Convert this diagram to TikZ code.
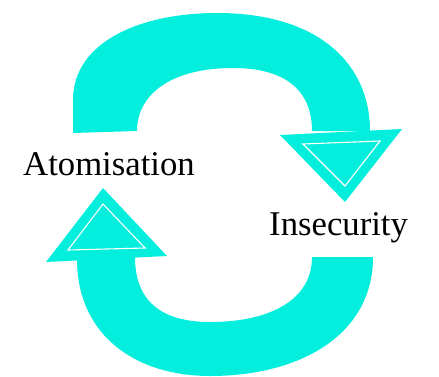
\documentclass[tikz,border=0pt]{standalone}
\usepackage{fontspec}
\setmainfont{Liberation Serif}
\definecolor{aqua}{RGB}{4,238,222}
\begin{document}
\begin{tikzpicture}[x=1pt,y=-1pt,
  band/.style={fill=aqua,draw=none},
  innertri/.style={draw=white,line width=1.1pt,line join=miter},
  label/.style={inner sep=0pt,anchor=base west,font=\fontsize{34.7}{38}\selectfont}]
\useasboundingbox (0,0) rectangle (439,376);
% top arc
\path[band] (73,133) -- (73,100) .. controls (73,42) and (140,13) .. (217,13)
  .. controls (320,13) and (370,65) .. (370,131) -- (312,131)
  .. controls (312,90) and (285,68) .. (233,68)
  .. controls (170,68) and (137,95) .. (137,131) -- cycle;
% top arrowhead
\path[band] (280,135) -- (402,129) -- (345,202) -- cycle;
\draw[innertri] (303,144) -- (380,141) -- (345,186) -- cycle;
% bottom arc
\path[band] (77,259) .. controls (77,335) and (135,376) .. (210,376)
  .. controls (300,376) and (373,335) .. (373,257) -- (312,257)
  .. controls (312,300) and (270,322) .. (210,322)
  .. controls (160,322) and (135,300) .. (135,257) -- cycle;
% bottom arrowhead
\path[band] (46,262) -- (167,256) -- (103,188) -- cycle;
\draw[innertri] (68,250) -- (145,248) -- (103,204) -- cycle;
% labels
\node[label] (atom) at (23,175) {Atomisation};
\node[label] (insec) at (269,235) {Insecurity};
\end{tikzpicture}
\end{document}
